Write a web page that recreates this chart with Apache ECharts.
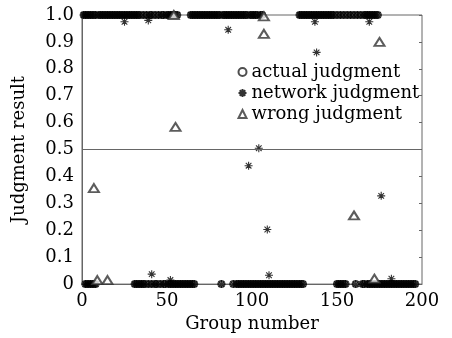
<!DOCTYPE html>
<html>
<head>
<meta charset="utf-8">
<script src="https://cdn.jsdelivr.net/npm/echarts@6/dist/echarts.min.js"></script>
<style>
  html, body { margin: 0; padding: 0; background: #fff; }
  #chart { width: 452px; height: 338px; }
</style>
</head>
<body>
<div id="chart"></div>
<script>
// group numbers whose actual judgment is 1
const actualOneX = [
  1, 2, 3, 4, 5, 6, 7, 8, 10, 11, 12, 13, 14, 15, 16, 17, 18, 19, 20, 21, 22, 23, 24, 25, 26,
  27, 28, 29, 30, 31, 32, 33, 34, 36, 38, 40, 41, 43, 45, 47, 48, 50, 51, 52, 53, 54, 55, 56,
  64, 65, 66, 67, 68, 69, 70, 71, 72, 73, 74, 75, 76, 77, 78, 79, 80, 81, 83, 84, 85, 86, 87,
  88, 89, 90, 91, 92, 93, 94, 95, 96, 97, 99, 100, 101, 102, 103, 105, 106,
  128, 129, 130, 131, 132, 133, 134, 135, 136, 137, 138, 139, 140, 141, 142, 143, 144, 145, 146,
  147, 148, 150, 152, 154, 156, 158, 160, 162, 164, 166, 167, 168, 169, 170, 171, 172, 173, 174
]
// group numbers whose actual judgment is 0
const actualZeroX = [
  2, 3, 4, 5, 6, 7, 8,
  31, 32, 33, 34, 35, 36, 37, 39, 41, 43, 44, 46, 48, 49, 51, 52, 53, 54, 55, 56, 57, 58, 59,
  60, 61, 62, 63, 64, 65, 66,
  82,
  89, 91, 92, 93, 94, 95, 96, 97, 98, 99, 100, 101, 102, 103, 104, 105, 106, 107, 108, 109, 110,
  111, 112, 113, 114, 115, 116, 117, 118, 119, 120, 121, 122, 123, 124, 125, 126, 127, 128, 129, 130,
  150, 151, 152, 153, 154, 155,
  161,
  165, 166, 168, 169, 170, 171, 172, 173, 174, 175, 176, 177, 178, 179, 180, 181, 182, 183, 184,
  185, 186, 187, 188, 189, 190, 191, 192, 193, 194, 195, 196
]
// network outputs that stray from 0 / 1
const netOddX = [25, 39, 41, 52, 86, 98, 104, 109, 110, 137, 138, 169, 176, 182]
const netOddY = [0.975, 0.98, 0.037, 0.015, 0.945, 0.44, 0.505, 0.203, 0.033, 0.975, 0.861, 0.975, 0.328, 0.02]
// wrong judgments
const wrongX = [7, 9, 15, 54, 55, 107, 107, 160, 172, 175]
const wrongY = [0.357, 0.015, 0.015, 1.0, 0.584, 0.995, 0.93, 0.255, 0.02, 0.90]

const xTicks = [0, 50, 100, 150, 200]

const font = 'DejaVu Serif'
const axisColor = '#666'
const star = 'path://M0,-10L0,10M-10,0L10,0M-7,-7L7,7M-7,7L7,-7'

const actualData = actualOneX.map(x => [x, 1]).concat(actualZeroX.map(x => [x, 0]))
const netData = actualOneX.map(x => [x, 1]).concat(actualZeroX.map(x => [x, 0]))
  .concat(netOddX.map((x, i) => [x, netOddY[i]]))
const wrongData = wrongX.map((x, i) => [x, wrongY[i]])

const chart = echarts.init(document.getElementById('chart'))
chart.setOption({
  animation: false,
  grid: {
    left: 82, right: 30, top: 15, bottom: 52,
    show: true, borderColor: axisColor, borderWidth: 1
  },
  legend: {
    orient: 'vertical',
    left: 231, top: 58,
    itemWidth: 8, itemHeight: 8, itemGap: 3,
    textStyle: { fontFamily: font, fontSize: 18, color: '#000' },
    data: ['actual judgment', 'network judgment', 'wrong judgment']
  },
  xAxis: {
    type: 'value', min: 0, max: 200, interval: 50,
    name: 'Group number', nameLocation: 'middle', nameGap: 29,
    nameTextStyle: { fontFamily: font, fontSize: 18, color: '#000' },
    axisLine: { lineStyle: { color: axisColor } },
    axisTick: { show: false },
    splitLine: { show: false },
    axisLabel: {
      fontFamily: font, fontSize: 18, color: '#000', margin: 8,
      customValues: xTicks
    }
  },
  yAxis: [{
    type: 'value', min: 0, max: 1, interval: 0.1,
    name: 'Judgment result', nameLocation: 'middle', nameGap: 54,
    nameTextStyle: { fontFamily: font, fontSize: 18, color: '#000' },
    axisLine: { show: true, lineStyle: { color: axisColor } },
    axisTick: { show: false },
    splitLine: { show: false },
    axisLabel: {
      fontFamily: font, fontSize: 18, color: '#000', margin: 8,
      formatter: v => v === 0 ? '0' : v.toFixed(1)
    }
  }, {
    type: 'value', min: 0, max: 1, interval: 0.1, position: 'right',
    axisLine: { show: false },
    axisTick: { show: true, inside: true, length: 3, lineStyle: { color: axisColor } },
    axisLabel: { show: false },
    splitLine: { show: false }
  }],
  series: [{
    name: 'actual judgment', type: 'scatter', data: actualData,
    symbol: 'emptyCircle', symbolSize: 6,
    itemStyle: { color: '#222', borderColor: '#222', borderWidth: 0.7 },
    markLine: {
      silent: true, symbol: 'none', label: { show: false },
      lineStyle: { color: axisColor, type: 'solid', width: 1 },
      data: [{ yAxis: 0.5 }]
    }
  }, {
    name: 'network judgment', type: 'scatter', data: netData,
    symbol: star, symbolSize: 8,
    itemStyle: { color: 'none', borderColor: '#000', borderWidth: 1.1 }
  }, {
    name: 'wrong judgment', type: 'scatter', data: wrongData,
    symbol: 'emptyTriangle', symbolSize: [10, 8],
    itemStyle: { color: '#333', borderColor: '#333', borderWidth: 0.4 }
  }]
})
</script>
</body>
</html>
